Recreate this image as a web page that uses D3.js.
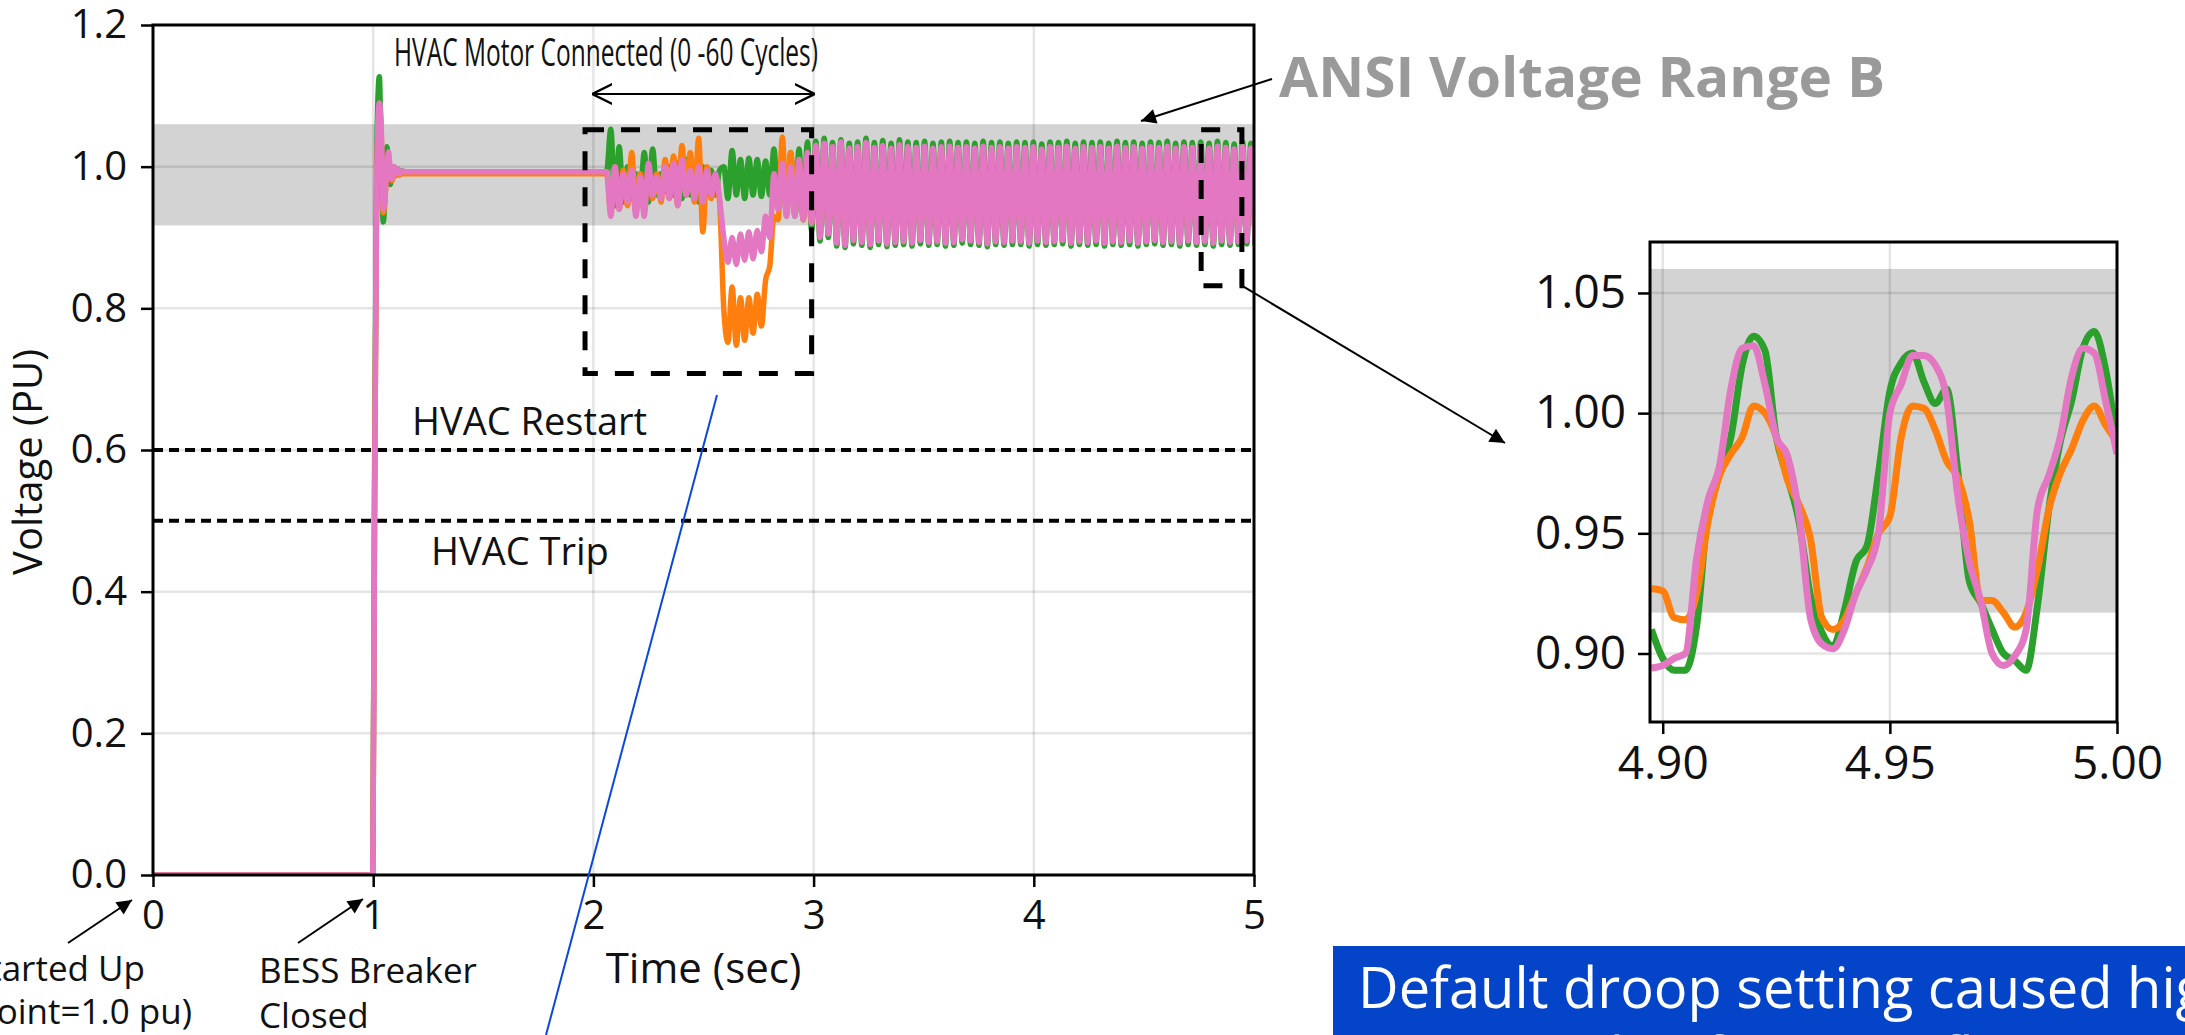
<!DOCTYPE html>
<html lang="en">
<head>
<meta charset="UTF-8">
<title>BESS voltage</title>
<script src="https://d3js.org/d3.v7.min.js"></script>
<style>
  html, body { margin: 0; padding: 0; background: #fff; }
  svg text { font-family: "Open Sans", "Noto Sans", sans-serif; fill: #111; }
</style>
</head>
<body>
<div id="chart"></div>
<script>
const width = 2185, height = 1035;

// axis ticks
const xTicks = [0, 1, 2, 3, 4, 5];
const yTicks = [0, 0.2, 0.4, 0.6, 0.8, 1.0, 1.2];
const insetXTicks = [4.90, 4.95, 5.00];
const insetYTicks = [0.90, 0.95, 1.00, 1.05];

// reference levels
const ansiBand = [0.917, 1.06];
const hvacRestart = 0.6;
const hvacTrip = 0.5;

// breaker close / settling
const tStart = [0, 0.998, 1.006, 1.016, 1.028, 1.036, 1.046, 1.054, 1.062, 1.07, 1.078, 1.086, 1.094, 1.102, 1.11, 1.12, 1.13, 1.145];
const greenStart = [0, 0, 0.55, 1.02, 1.127, 1.02, 0.922, 0.965, 1.028, 1.005, 0.975, 0.995, 1.0, 0.988, 0.997, 0.99, 0.994, 0.993];
const orangeStart = [0, 0, 0.5, 0.98, 1.085, 1.05, 0.935, 0.955, 1.0, 1.015, 0.99, 0.98, 0.997, 0.987, 0.993, 0.988, 0.99, 0.99];
const pinkStart = [0, 0, 0.5, 0.98, 1.09, 1.06, 0.94, 0.96, 1.0, 1.021, 0.99, 0.983, 1.0, 0.99, 0.997, 0.99, 0.994, 0.993];

// from 2.06 s on, one sample per half cycle
const oscStart = 2.06;
const halfCycle = 0.019;

// motor connected (2.06 - 3.0 s)
const greenMotor = [0.993, 1.053, 0.945, 1.028, 0.95, 1.0, 0.955, 0.99, 0.96, 1.02,
  0.95, 1.025, 0.96, 0.99, 0.965, 1.0, 0.96, 1.005, 0.955, 1.01,
  0.96, 0.99, 0.95, 1.0, 0.965, 0.995, 0.96, 0.995, 1.0, 0.955,
  1.023, 0.96, 1.01, 0.955, 1.012, 0.96, 1.01, 0.958, 1.008, 0.96,
  1.025, 0.94, 1.01, 0.935, 1.02, 0.93, 1.025, 0.925, 1.035, 0.91];
const orangeMotor = [0.99, 0.935, 1.0, 0.94, 0.995, 0.945, 1.02, 0.935, 0.99, 0.94,
  1.0, 0.955, 0.99, 0.95, 1.01, 0.955, 1.015, 0.945, 1.03, 0.96,
  1.02, 0.95, 1.04, 0.908, 1.0, 0.955, 0.985, 0.95, 0.8, 0.752,
  0.83, 0.748, 0.815, 0.755, 0.815, 0.765, 0.82, 0.775, 0.84, 0.86,
  0.93, 0.925, 1.042, 0.93, 1.02, 0.935, 1.01, 0.925, 1.0, 0.92];
const pinkMotor = [0.993, 0.93, 1.0, 0.94, 0.99, 0.95, 0.995, 0.93, 0.985, 0.93,
  1.005, 0.96, 0.985, 0.955, 1.0, 0.955, 1.005, 0.945, 1.01, 0.96,
  0.995, 0.955, 1.0, 0.95, 0.995, 0.96, 0.99, 0.955, 0.9, 0.865,
  0.9, 0.862, 0.905, 0.868, 0.908, 0.87, 0.91, 0.88, 0.93, 0.9,
  0.99, 0.94, 1.005, 0.93, 1.0, 0.93, 1.01, 0.925, 1.02, 0.92];

// sustained oscillation (3.0 - 5.0 s): peaks and troughs
const greenHi = [1.036, 1.040, 1.034, 1.038, 1.033, 1.035, 1.040, 1.034, 1.037, 1.033,
  1.038, 1.035, 1.034, 1.036, 1.033, 1.035, 1.036, 1.034, 1.035, 1.033,
  1.036, 1.034, 1.035, 1.033, 1.035, 1.034, 1.035, 1.032, 1.035, 1.034,
  1.036, 1.033, 1.035, 1.034, 1.035, 1.033, 1.036, 1.034, 1.035, 1.033,
  1.035, 1.034, 1.036, 1.033, 1.035, 1.034, 1.035, 1.033, 1.036, 1.034,
  1.032, 1.035, 1.033];
const greenLo = [0.895, 0.900, 0.888, 0.886, 0.891, 0.889, 0.886, 0.890, 0.887, 0.889,
  0.890, 0.888, 0.891, 0.889, 0.890, 0.888, 0.889, 0.892, 0.890, 0.889,
  0.887, 0.890, 0.889, 0.890, 0.890, 0.888, 0.890, 0.889, 0.890, 0.891,
  0.888, 0.890, 0.889, 0.890, 0.888, 0.890, 0.889, 0.890, 0.888, 0.890,
  0.891, 0.889, 0.890, 0.888, 0.890, 0.889, 0.890, 0.888, 0.890, 0.889,
  0.890, 0.891, 0.889];
const orangeHi = [1.010, 1.012, 1.000, 1.005, 1.000, 1.002, 1.006, 1.000, 1.003, 1.000,
  1.004, 1.001, 1.000, 1.002, 1.000, 1.001, 1.002, 1.000, 1.001, 1.000,
  1.002, 1.000, 1.001, 1.000, 1.001, 1.000, 1.001, 0.999, 1.001, 1.000,
  1.002, 1.000, 1.001, 1.000, 1.001, 1.000, 1.002, 1.000, 1.001, 1.000,
  1.001, 1.000, 1.002, 1.000, 1.001, 1.000, 1.001, 1.000, 1.002, 1.000,
  0.999, 1.001, 1.000];
const orangeLo = [0.915, 0.918, 0.910, 0.908, 0.912, 0.910, 0.908, 0.912, 0.909, 0.910,
  0.911, 0.910, 0.912, 0.910, 0.911, 0.910, 0.910, 0.913, 0.911, 0.910,
  0.909, 0.911, 0.910, 0.911, 0.911, 0.910, 0.911, 0.910, 0.911, 0.912,
  0.910, 0.911, 0.910, 0.911, 0.910, 0.911, 0.910, 0.911, 0.910, 0.911,
  0.912, 0.910, 0.911, 0.910, 0.911, 0.910, 0.911, 0.910, 0.911, 0.910,
  0.911, 0.912, 0.910];
const pinkHi = [1.030, 1.033, 1.028, 1.035, 1.026, 1.028, 1.034, 1.027, 1.030, 1.026,
  1.031, 1.028, 1.027, 1.029, 1.026, 1.028, 1.029, 1.027, 1.028, 1.026,
  1.029, 1.027, 1.028, 1.026, 1.028, 1.027, 1.028, 1.025, 1.028, 1.027,
  1.029, 1.026, 1.028, 1.027, 1.028, 1.026, 1.029, 1.027, 1.028, 1.026,
  1.028, 1.027, 1.029, 1.026, 1.028, 1.027, 1.028, 1.026, 1.029, 1.027,
  1.025, 1.028, 1.026];
const pinkLo = [0.900, 0.905, 0.892, 0.889, 0.896, 0.893, 0.890, 0.895, 0.891, 0.893,
  0.894, 0.892, 0.896, 0.893, 0.894, 0.892, 0.893, 0.897, 0.895, 0.893,
  0.891, 0.894, 0.893, 0.895, 0.894, 0.892, 0.895, 0.893, 0.894, 0.896,
  0.892, 0.894, 0.893, 0.895, 0.892, 0.894, 0.893, 0.895, 0.892, 0.894,
  0.896, 0.893, 0.894, 0.892, 0.895, 0.893, 0.894, 0.892, 0.895, 0.893,
  0.894, 0.895, 0.893];

// zoomed window 4.8975 - 5.0 s
const insetTime = [4.8975, 4.9000, 4.9025, 4.9050, 4.9075, 4.9100, 4.9125, 4.9150, 4.9175, 4.9200,
  4.9225, 4.9250, 4.9275, 4.9300, 4.9325, 4.9350, 4.9375, 4.9400, 4.9425, 4.9450,
  4.9475, 4.9500, 4.9525, 4.9550, 4.9575, 4.9600, 4.9625, 4.9650, 4.9675, 4.9700,
  4.9725, 4.9750, 4.9775, 4.9800, 4.9825, 4.9850, 4.9875, 4.9900, 4.9925, 4.9950,
  4.9975, 5.0000];
const insetGreen = [0.91, 0.898, 0.893, 0.893, 0.912, 0.96, 0.975, 0.99, 1.02, 1.032,
  1.026, 0.99, 0.973, 0.955, 0.924, 0.909, 0.903, 0.918, 0.938, 0.945,
  0.975, 1.009, 1.021, 1.025, 1.013, 1.004, 1.01, 0.975, 0.93, 0.921,
  0.91, 0.9, 0.897, 0.893, 0.92, 0.96, 0.988, 1.005, 1.027, 1.034,
  1.018, 0.988];
const insetOrange = [0.927, 0.926, 0.915, 0.914, 0.925, 0.955, 0.974, 0.983, 0.99, 1.003,
  1.0, 0.99, 0.972, 0.962, 0.948, 0.915, 0.91, 0.914, 0.925, 0.936,
  0.95, 0.957, 0.99, 1.003, 1.002, 0.993, 0.98, 0.973, 0.955, 0.922,
  0.922, 0.917, 0.911, 0.917, 0.935, 0.96, 0.975, 0.985, 0.997, 1.003,
  0.995, 0.988];
const insetPink = [0.894, 0.895, 0.898, 0.9, 0.94, 0.964, 0.978, 1.01, 1.027, 1.028,
  1.012, 0.99, 0.982, 0.958, 0.915, 0.904, 0.902, 0.91, 0.925, 0.935,
  0.95, 1.0, 1.012, 1.024, 1.024, 1.02, 1.006, 0.965, 0.938, 0.922,
  0.9, 0.895, 0.899, 0.91, 0.96, 0.974, 0.99, 1.015, 1.027, 1.025,
  1.005, 0.983];

const colors = { green: '#2ca02c', orange: '#ff7f0e', pink: '#e377c2' };

// main axes frame
const plot = { left: 153, right: 1254, top: 25, bottom: 875 };
const inset = { left: 1650, right: 2117, top: 242, bottom: 722 };

const x = d3.scaleLinear().domain([0, 5]).range([plot.left, plot.right]);
const y = d3.scaleLinear().domain([0, 1.2]).range([plot.bottom, plot.top]);
const xi = d3.scaleLinear().domain([4.8972, 5.0]).range([inset.left, inset.right]);
const yi = d3.scaleLinear().domain([0.8715, 1.0712]).range([inset.bottom, inset.top]);

function buildSeries(start, motor, hi, lo) {
  const pts = tStart.map((t, i) => [t, start[i]]);
  const osc = motor.concat(d3.merge(hi.map((h, i) => [h, lo[i]])));
  osc.forEach((v, k) => pts.push([oscStart + k * halfCycle, v]));
  return pts;
}

const series = [
  { color: colors.green, main: buildSeries(greenStart, greenMotor, greenHi, greenLo), zoom: insetTime.map((t, i) => [t, insetGreen[i]]) },
  { color: colors.orange, main: buildSeries(orangeStart, orangeMotor, orangeHi, orangeLo), zoom: insetTime.map((t, i) => [t, insetOrange[i]]) },
  { color: colors.pink, main: buildSeries(pinkStart, pinkMotor, pinkHi, pinkLo), zoom: insetTime.map((t, i) => [t, insetPink[i]]) }
];

const svg = d3.select('#chart').append('svg')
  .attr('width', width)
  .attr('height', height);

const defs = svg.append('defs');
defs.append('clipPath').attr('id', 'clipMain').append('rect')
  .attr('x', plot.left).attr('y', plot.top)
  .attr('width', plot.right - plot.left).attr('height', plot.bottom - plot.top);
defs.append('clipPath').attr('id', 'clipInset').append('rect')
  .attr('x', inset.left).attr('y', inset.top)
  .attr('width', inset.right - inset.left).attr('height', inset.bottom - inset.top);
defs.append('marker').attr('id', 'arrowFill')
  .attr('viewBox', '0 0 10 10').attr('refX', 10).attr('refY', 5)
  .attr('markerWidth', 18).attr('markerHeight', 15)
  .attr('markerUnits', 'userSpaceOnUse').attr('orient', 'auto')
  .append('path').attr('d', 'M0,0 L10,5 L0,10 z').attr('fill', '#000');
defs.append('marker').attr('id', 'arrowOpen')
  .attr('viewBox', '0 0 10 10').attr('refX', 9.5).attr('refY', 5)
  .attr('markerWidth', 20).attr('markerHeight', 24)
  .attr('markerUnits', 'userSpaceOnUse').attr('orient', 'auto-start-reverse')
  .append('path').attr('d', 'M0,0 L10,5 L0,10').attr('fill', 'none')
  .attr('stroke', '#000').attr('stroke-width', 1.2);

// ---- main plot ----
const gMain = svg.append('g');

gMain.append('rect')
  .attr('x', plot.left).attr('width', plot.right - plot.left)
  .attr('y', y(ansiBand[1])).attr('height', y(ansiBand[0]) - y(ansiBand[1]))
  .attr('fill', '#d3d3d3');

// grid
gMain.append('g').selectAll('line').data(xTicks.slice(1, -1)).join('line')
  .attr('x1', d => x(d)).attr('x2', d => x(d))
  .attr('y1', plot.top).attr('y2', plot.bottom)
  .attr('stroke', '#000').attr('stroke-opacity', 0.1).attr('stroke-width', 2.5);
gMain.append('g').selectAll('line').data(yTicks.slice(1, -1)).join('line')
  .attr('x1', plot.left).attr('x2', plot.right)
  .attr('y1', d => y(d)).attr('y2', d => y(d))
  .attr('stroke', '#000').attr('stroke-opacity', 0.1).attr('stroke-width', 2.5);

// HVAC restart / trip levels
gMain.append('g').selectAll('line').data([hvacRestart, hvacTrip]).join('line')
  .attr('x1', plot.left).attr('x2', plot.right)
  .attr('y1', d => y(d)).attr('y2', d => y(d))
  .attr('stroke', '#000').attr('stroke-width', 4).attr('stroke-dasharray', '10,6');

const lineMain = d3.line().x(d => x(d[0])).y(d => y(d[1])).curve(d3.curveMonotoneX);
gMain.append('g').attr('clip-path', 'url(#clipMain)')
  .selectAll('path').data(series).join('path')
  .attr('d', d => lineMain(d.main))
  .attr('fill', 'none').attr('stroke', d => d.color)
  .attr('stroke-width', 5.5).attr('stroke-linejoin', 'round');

// axes
const xAxis = d3.axisBottom(x).tickValues(xTicks).tickFormat(d3.format('d')).tickSize(12).tickPadding(14);
const yAxis = d3.axisLeft(y).tickValues(yTicks).tickFormat(d3.format('.1f')).tickSize(12).tickPadding(14);
const gX = gMain.append('g').attr('transform', `translate(0, ${plot.bottom})`).call(xAxis);
const gY = gMain.append('g').attr('transform', `translate(${plot.left}, 0)`).call(yAxis);
[gX, gY].forEach(g => {
  g.select('.domain').remove();
  g.selectAll('.tick line').attr('stroke', '#000').attr('stroke-width', 2.5);
  g.selectAll('.tick text').attr('font-size', 40).attr('fill', '#111');
});
gMain.append('rect')
  .attr('x', plot.left).attr('y', plot.top)
  .attr('width', plot.right - plot.left).attr('height', plot.bottom - plot.top)
  .attr('fill', 'none').attr('stroke', '#000').attr('stroke-width', 3);

gMain.append('text')
  .attr('transform', `translate(26, ${(plot.top + plot.bottom) / 2 + 12}) rotate(-90)`)
  .attr('text-anchor', 'middle').attr('dominant-baseline', 'central')
  .attr('font-size', 40).text('Voltage (PU)');
gMain.append('text')
  .attr('x', (x(2) + x(3)) / 2).attr('y', 983)
  .attr('text-anchor', 'middle').attr('font-size', 42).text('Time (sec)');

// annotation boxes (dashed)
const boxes = [
  { t0: 1.962, t1: 2.991, v0: 0.708, v1: 1.052 },
  { t0: 4.76, t1: 4.945, v0: 0.832, v1: 1.052 }
];
gMain.append('g').selectAll('rect').data(boxes).join('rect')
  .attr('x', d => x(d.t0)).attr('y', d => y(d.v1))
  .attr('width', d => x(d.t1) - x(d.t0)).attr('height', d => y(d.v0) - y(d.v1))
  .attr('fill', 'none').attr('stroke', '#000').attr('stroke-width', 5)
  .attr('stroke-dasharray', '19,17');

// motor window arrow + labels
gMain.append('line')
  .attr('x1', x(2)).attr('x2', x(3)).attr('y1', 94).attr('y2', 94)
  .attr('stroke', '#000').attr('stroke-width', 2.2)
  .attr('marker-start', 'url(#arrowOpen)').attr('marker-end', 'url(#arrowOpen)');
gMain.append('text').attr('x', 394).attr('y', 66).attr('font-size', 38)
  .attr('textLength', 424).attr('lengthAdjust', 'spacingAndGlyphs')
  .text('HVAC Motor Connected (0 -60 Cycles)');
gMain.append('text').attr('x', 412).attr('y', 435).attr('font-size', 38).text('HVAC Restart');
gMain.append('text').attr('x', 431).attr('y', 565).attr('font-size', 38).text('HVAC Trip');

gMain.append('text').attr('x', 1279).attr('y', 97)
  .attr('font-size', 55).attr('font-weight', 700).style('fill', '#9a9a9a')
  .attr('textLength', 606).attr('lengthAdjust', 'spacingAndGlyphs')
  .text('ANSI Voltage Range B');

const arrows = [
  [1272, 79, 1141, 121],
  [x(4.945), y(0.832), 1505, 443],
  [68, 943, 132, 900],
  [298, 943, 363, 899]
];
gMain.append('g').selectAll('line').data(arrows).join('line')
  .attr('x1', d => d[0]).attr('y1', d => d[1]).attr('x2', d => d[2]).attr('y2', d => d[3])
  .attr('stroke', '#000').attr('stroke-width', 2)
  .attr('marker-end', 'url(#arrowFill)');

gMain.append('line')
  .attr('x1', 717).attr('y1', 395).attr('x2', 546).attr('y2', 1035)
  .attr('stroke', '#0a48d8').attr('stroke-width', 2);

// bottom notes
const notes = svg.append('g').attr('font-size', 35);
notes.append('text').attr('x', 145).attr('y', 981).attr('text-anchor', 'end').text('BESS Started Up');
notes.append('text').attr('x', 192).attr('y', 1024).attr('text-anchor', 'end').text('(Voltage Setpoint=1.0 pu)');
notes.append('text').attr('x', 259).attr('y', 983).text('BESS Breaker');
notes.append('text').attr('x', 259).attr('y', 1028).text('Closed');

// ---- inset ----
const gIn = svg.append('g');
gIn.append('rect')
  .attr('x', inset.left).attr('width', inset.right - inset.left)
  .attr('y', yi(ansiBand[1])).attr('height', yi(ansiBand[0]) - yi(ansiBand[1]))
  .attr('fill', '#d3d3d3');
gIn.append('g').selectAll('line').data(insetXTicks).join('line')
  .attr('x1', d => xi(d)).attr('x2', d => xi(d))
  .attr('y1', inset.top).attr('y2', inset.bottom)
  .attr('stroke', '#000').attr('stroke-opacity', 0.1).attr('stroke-width', 2.5);
gIn.append('g').selectAll('line').data(insetYTicks).join('line')
  .attr('x1', inset.left).attr('x2', inset.right)
  .attr('y1', d => yi(d)).attr('y2', d => yi(d))
  .attr('stroke', '#000').attr('stroke-opacity', 0.1).attr('stroke-width', 2.5);

const lineInset = d3.line().x(d => xi(d[0])).y(d => yi(d[1])).curve(d3.curveMonotoneX);
gIn.append('g').attr('clip-path', 'url(#clipInset)')
  .selectAll('path').data(series).join('path')
  .attr('d', d => lineInset(d.zoom))
  .attr('fill', 'none').attr('stroke', d => d.color)
  .attr('stroke-width', 7).attr('stroke-linejoin', 'round');

const xiAxis = d3.axisBottom(xi).tickValues(insetXTicks).tickFormat(d3.format('.2f')).tickSize(12).tickPadding(12);
const yiAxis = d3.axisLeft(yi).tickValues(insetYTicks).tickFormat(d3.format('.2f')).tickSize(12).tickPadding(12);
const gXi = gIn.append('g').attr('transform', `translate(0, ${inset.bottom})`).call(xiAxis);
const gYi = gIn.append('g').attr('transform', `translate(${inset.left}, 0)`).call(yiAxis);
[gXi, gYi].forEach(g => {
  g.select('.domain').remove();
  g.selectAll('.tick line').attr('stroke', '#000').attr('stroke-width', 2.5);
  g.selectAll('.tick text').attr('font-size', 46).attr('fill', '#111');
});
gIn.append('rect')
  .attr('x', inset.left).attr('y', inset.top)
  .attr('width', inset.right - inset.left).attr('height', inset.bottom - inset.top)
  .attr('fill', 'none').attr('stroke', '#000').attr('stroke-width', 3);

// ---- blue note ----
const note = svg.append('g');
note.append('rect').attr('x', 1333).attr('y', 946).attr('width', 900).attr('height', 120).attr('fill', '#0444c8');
note.append('text').attr('x', 1358).attr('y', 1008).attr('font-size', 56).style('fill', '#fff')
  .text('Default droop setting caused high');
note.append('text').attr('x', 1390).attr('y', 1078).attr('font-size', 56).style('fill', '#fff')
  .text('amplitude of voltage fluctuations');
</script>
</body>
</html>
